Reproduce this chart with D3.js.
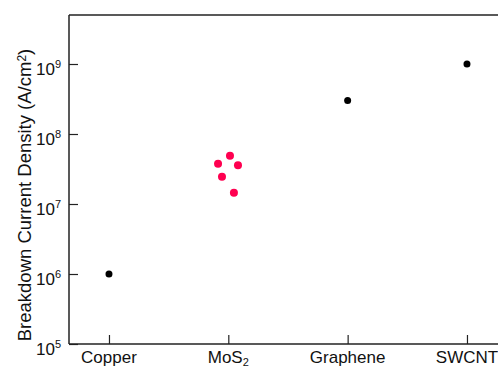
<!DOCTYPE html>
<html><head><meta charset="utf-8">
<script src="https://cdn.jsdelivr.net/npm/d3@7"></script>
<style>body{margin:0;background:#fff}svg{display:block;font-family:Arial,"Liberation Sans",sans-serif}</style>
</head><body>
<svg id="c" width="498" height="366"></svg>
<script>
const categories = ["Copper", "MoS2", "Graphene", "SWCNT"];
const blackPos = [1, 3, 4];
const blackVals = [1e6, 3e8, 1e9];
const mosPos = [2.014, 1.914, 2.081, 1.947, 2.047];
const mosVals = [4.9e7, 3.77e7, 3.57e7, 2.45e7, 1.45e7];
const yTickExps = [5, 6, 7, 8, 9];

const svg = d3.select("#c");
const L = 69, T = 15, B = 344, R = 498;
const x = d3.scaleLinear().domain([0.665, 4.26]).range([L, R]);
const y = d3.scaleLog().domain([1e5, Math.pow(10, 9.7)]).range([B, T]);

// frame lines
svg.append("line").attr("x1", L).attr("x2", R).attr("y1", T).attr("y2", T).attr("stroke", "#222").attr("stroke-width", 1.5);

const yAxis = svg.append("g").attr("transform", `translate(${L},0)`)
  .call(d3.axisRight(y).tickValues(yTickExps.map(e => Math.pow(10, e))).tickSize(9).tickFormat(""));
yAxis.select(".domain").attr("d", `M0,${T}V${B}`).attr("stroke", "#222").attr("stroke-width", 1.5);
yAxis.selectAll(".tick line").attr("stroke", "#222").attr("stroke-width", 1.2);

const xAxis = svg.append("g").attr("transform", `translate(0,${B})`)
  .call(d3.axisTop(x).tickValues([1, 2, 3, 4]).tickSize(9).tickFormat(""));
xAxis.select(".domain").attr("d", `M${L},0H${R}`).attr("stroke", "#222").attr("stroke-width", 1.5);
xAxis.selectAll(".tick line").attr("stroke", "#222").attr("stroke-width", 1.2);

// y tick labels
yTickExps.forEach(e => {
  const t = svg.append("text").attr("x", 61).attr("y", y(Math.pow(10, e)) + 11)
    .attr("text-anchor", "end").attr("font-size", 17).attr("fill", "#111");
  t.append("tspan").text("10");
  t.append("tspan").attr("dy", -7).attr("font-size", 11).text(e);
});

// x tick labels
categories.forEach((c, i) => {
  const t = svg.append("text").attr("x", x(i + 1)).attr("y", 362.5)
    .attr("text-anchor", "middle").attr("font-size", 17).attr("fill", "#111");
  if (c === "MoS2") {
    t.append("tspan").text("MoS");
    t.append("tspan").attr("dy", 3).attr("font-size", 11).text("2");
  } else t.text(c);
});

// y label
const yl = svg.append("text").attr("transform", `translate(31,195) rotate(-90)`)
  .attr("text-anchor", "middle").attr("font-size", 18.5).attr("fill", "#111");
yl.append("tspan").text("Breakdown Current Density (A/cm");
yl.append("tspan").attr("dy", -5).attr("font-size", 12).text("2");
yl.append("tspan").attr("dy", 5).text(")");

svg.selectAll("circle.b").data(blackPos).enter().append("circle").attr("class", "b")
  .attr("cx", d => x(d)).attr("cy", (d, i) => y(blackVals[i])).attr("r", 3.5).attr("fill", "#000");
svg.selectAll("circle.m").data(mosPos).enter().append("circle").attr("class", "m")
  .attr("cx", d => x(d)).attr("cy", (d, i) => y(mosVals[i])).attr("r", 4).attr("fill", "#ff0050");
</script>
</body></html>
